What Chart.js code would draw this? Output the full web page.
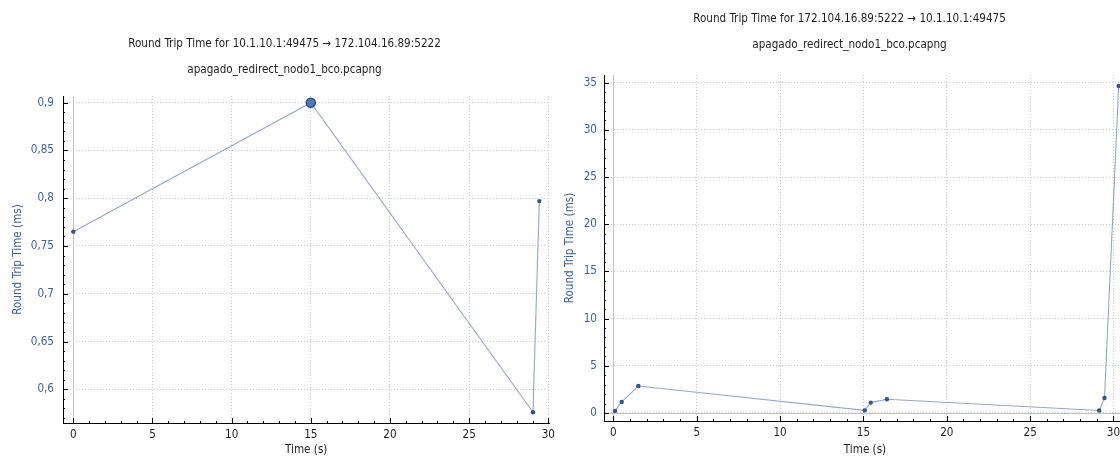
<!DOCTYPE html>
<html>
<head>
<meta charset="utf-8">
<script src="https://cdn.jsdelivr.net/npm/chart.js@4.4.1/dist/chart.umd.min.js"></script>
<style>
  html, body { margin: 0; padding: 0; background: #fff; overflow: hidden; width: 1120px; height: 458px; }
  canvas { position: absolute; top: 0; display: block; }
  #fwd { left: 0; }
  #rev { left: 560px; }
</style>
</head>
<body>
<canvas id="fwd" width="560" height="458"></canvas>
<canvas id="rev" width="576" height="458"></canvas>
<script>
// ---- texts ----
const fwdTitle = 'Round Trip Time for 10.1.10.1:49475 \u2192 172.104.16.89:5222';
const revTitle = 'Round Trip Time for 172.104.16.89:5222 \u2192 10.1.10.1:49475';
const captureFile = 'apagado_redirect_nodo1_bco.pcapng';
const xAxisTitle = 'Time (s)';
const yAxisTitle = 'Round Trip Time (ms)';

// ---- 10.1.10.1:49475 -> 172.104.16.89:5222 ----
const fwdTime = [0, 15, 29.03, 29.43];
const fwdRtt = [0.765, 0.9, 0.576, 0.797];
const fwdSelected = 1;
const fwdXTicks = [0, 5, 10, 15, 20, 25, 30];
const fwdYTicks = [0.6, 0.65, 0.7, 0.75, 0.8, 0.85, 0.9];

// ---- 172.104.16.89:5222 -> 10.1.10.1:49475 ----
const revTime = [0.1, 0.5, 1.5, 15.08, 15.44, 16.41, 29.14, 29.46, 30.31];
const revRtt = [0.22, 1.17, 2.86, 0.28, 1.1, 1.45, 0.26, 1.58, 34.65];
const revXTicks = [0, 5, 10, 15, 20, 25, 30];
const revYTicks = [0, 5, 10, 15, 20, 25, 30, 35];

// ---- styling ----
const FONT = { family: '"DejaVu Sans Condensed", "DejaVu Sans", sans-serif', size: 11.6 };
const BLUE = '#3d62a2';
const INK = '#1e1e1e';
const GRID = '#cdcdcd';
const LINE = 'rgba(80,112,172,0.62)';
const DOT = '#2f5597';

Chart.defaults.animation = false;
Chart.defaults.font.family = FONT.family;
Chart.defaults.font.size = FONT.size;

// Grid zero lines, inward major/minor tick marks and the two title lines
const decorations = {
  id: 'decorations',
  beforeDatasetsDraw(chart, args, o) {
    const { ctx, chartArea: a, scales: { x, y } } = chart;
    ctx.save();
    ctx.lineWidth = 1;
    ctx.setLineDash([]);
    ctx.strokeStyle = '#c4c4c4';
    ctx.beginPath();
    if (x.min <= 0 && x.max >= 0) {
      const px = Math.round(x.getPixelForValue(0)) + 0.5;
      ctx.moveTo(px, a.top); ctx.lineTo(px, a.bottom);
    }
    if (y.min <= 0 && y.max >= 0) {
      const py = Math.round(y.getPixelForValue(0)) + 0.5;
      ctx.moveTo(a.left, py); ctx.lineTo(a.right, py);
    }
    ctx.stroke();

    ctx.strokeStyle = '#000';
    ctx.beginPath();
    const marks = (scale, step, majors, horizontal) => {
      const n0 = Math.ceil(scale.min / step - 1e-9);
      const n1 = Math.floor(scale.max / step + 1e-9);
      for (let n = n0; n <= n1; n++) {
        const v = n * step;
        const major = majors.some(m => Math.abs(m - v) < step / 10);
        const len = major ? o.majorLen : o.minorLen;
        const p = Math.round(scale.getPixelForValue(v)) + 0.5;
        if (horizontal) { ctx.moveTo(p, a.bottom); ctx.lineTo(p, a.bottom - len); }
        else { ctx.moveTo(a.left, p); ctx.lineTo(a.left + len, p); }
      }
    };
    marks(x, o.xMinor, o.xMajor, true);
    marks(y, o.yMinor, o.yMajor, false);
    ctx.stroke();
    ctx.restore();
  },
  afterDraw(chart, args, o) {
    const { ctx } = chart;
    ctx.save();
    ctx.fillStyle = INK;
    ctx.font = FONT.size + 'px ' + FONT.family;
    ctx.textAlign = 'center';
    ctx.textBaseline = 'middle';
    ctx.fillText(o.title, o.titleX, o.titleY);
    ctx.fillText(o.subtitle, o.titleX, o.subtitleY);
    ctx.restore();
  }
};

const commaNum = v => String(v).replace('.', ',');

function makeChart(id, p) {
  return new Chart(document.getElementById(id), {
    type: 'line',
    data: {
      datasets: [{
        data: p.time.map((t, i) => ({ x: t, y: p.rtt[i] })),
        borderColor: LINE,
        borderWidth: 1.1,
        tension: 0,
        pointRadius: p.time.map((t, i) => i === p.selected ? 4.5 : 2.2),
        pointBackgroundColor: p.time.map((t, i) => i === p.selected ? '#5276b6' : DOT),
        pointBorderColor: p.time.map((t, i) => i === p.selected ? '#2a4c88' : DOT),
        pointBorderWidth: p.time.map((t, i) => i === p.selected ? 1.5 : 0),
        clip: false
      }]
    },
    options: {
      responsive: false,
      devicePixelRatio: 1,
      layout: { padding: { left: 0, right: 10, top: p.top, bottom: 0 } },
      plugins: {
        legend: { display: false },
        tooltip: { enabled: false },
        decorations: {
          title: p.title, subtitle: captureFile,
          titleX: p.titleX, titleY: p.titleY, subtitleY: p.subtitleY,
          xMinor: 1, xMajor: p.xTicks, yMinor: p.yMinor, yMajor: p.yTicks,
          majorLen: 5, minorLen: 2
        }
      },
      scales: {
        x: {
          type: 'linear',
          min: p.xMin, max: p.xMax,
          afterBuildTicks: s => { s.ticks = p.xTicks.map(v => ({ value: v })); },
          afterFit: s => { s.height = p.xHeight; },
          ticks: { color: INK, font: FONT, padding: 5, maxRotation: 0, autoSkip: false },
          grid: { color: GRID, drawTicks: false },
          border: { color: '#000', width: 1, dash: [1, 2] },
          title: { display: true, text: xAxisTitle, color: INK, font: FONT, padding: { top: 0, bottom: 1 } }
        },
        y: {
          type: 'linear',
          min: p.yMin, max: p.yMax,
          afterBuildTicks: s => { s.ticks = p.yTicks.map(v => ({ value: v })); },
          afterFit: s => { s.width = p.yWidth; },
          ticks: { color: BLUE, font: FONT, padding: p.yPad, autoSkip: false, callback: commaNum },
          grid: { color: GRID, drawTicks: false },
          border: { color: '#000', width: 1, dash: [1, 2] },
          title: { display: true, text: yAxisTitle, color: BLUE, font: FONT, padding: { top: p.yTitlePad, bottom: 0 } }
        }
      }
    },
    plugins: [decorations]
  });
}

makeChart('fwd', {
  time: fwdTime, rtt: fwdRtt, selected: fwdSelected,
  xTicks: fwdXTicks, yTicks: fwdYTicks, yMinor: 0.01,
  xMin: -0.65, xMax: 30.07, yMin: 0.5647, yMax: 0.907,
  top: 96, xHeight: 35, yWidth: 63, yPad: 9, yTitlePad: 11,
  title: fwdTitle, titleX: 284.5, titleY: 43.5, subtitleY: 69.5
});

makeChart('rev', {
  time: revTime, rtt: revRtt, selected: -1,
  xTicks: revXTicks, yTicks: revYTicks, yMinor: 1,
  xMin: -0.56, xMax: 30.75, yMin: -0.85, yMax: 35.82,
  top: 75, xHeight: 37, yWidth: 44, yPad: 7, yTitlePad: 3,
  title: revTitle, titleX: 289.5, titleY: 19, subtitleY: 45
});
</script>
</body>
</html>
